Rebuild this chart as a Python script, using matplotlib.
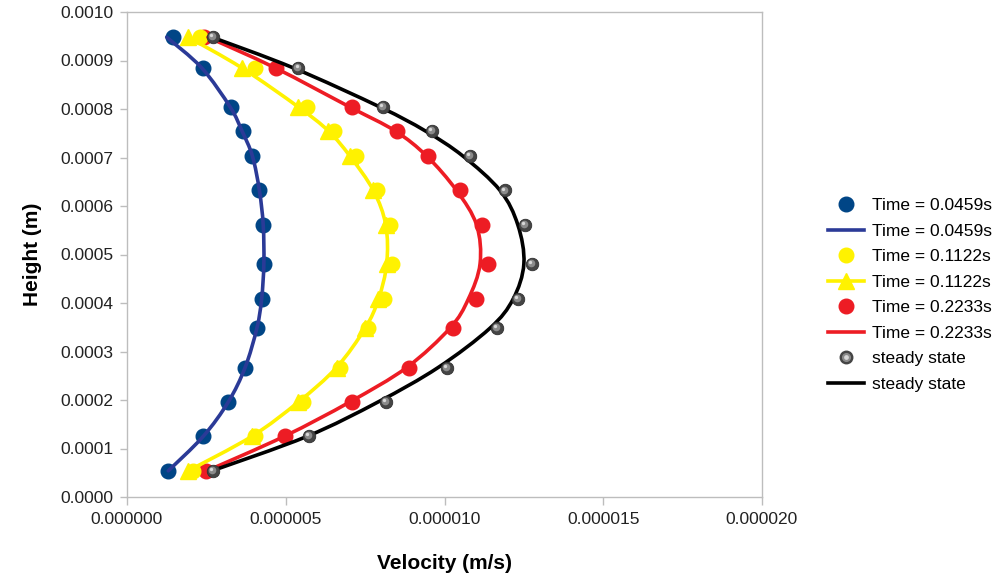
import numpy as np
import matplotlib
matplotlib.use("Agg")
import matplotlib.pyplot as plt
from matplotlib.path import Path
from matplotlib.patches import PathPatch
from matplotlib.lines import Line2D
from matplotlib.legend_handler import HandlerTuple
from matplotlib.transforms import ScaledTranslation
from matplotlib.ticker import FormatStrFormatter, MultipleLocator

plt.rcParams["font.family"] = ["Liberation Sans", "DejaVu Sans"]

# heights of the sampled cells (m)
height = [0.000948, 0.000885, 0.000804, 0.000755, 0.000703, 0.000632, 0.000561,
          0.000481, 0.000408, 0.000348, 0.000267, 0.000196, 0.000125, 0.000054]

# velocities in micro-m/s, converted below
blue_pts = [1.46, 2.40, 3.28, 3.64, 3.95, 4.17, 4.29, 4.31, 4.24, 4.09, 3.72, 3.19, 2.40, 1.30]
blue_line = [1.25, 2.35, 3.25, 3.62, 3.95, 4.17, 4.29, 4.31, 4.24, 4.09, 3.72, 3.19, 2.40, 1.30]
yellow_pts = [2.30, 4.03, 5.66, 6.52, 7.21, 7.86, 8.28, 8.36, 8.10, 7.60, 6.71, 5.53, 4.03, 2.08]
yellow_line = [1.93, 3.61, 5.40, 6.34, 7.02, 7.76, 8.15, 8.18, 7.92, 7.50, 6.60, 5.40, 3.93, 1.93]
red_pts = [2.42, 4.69, 7.08, 8.49, 9.49, 10.49, 11.17, 11.38, 10.99, 10.28, 8.89, 7.08, 4.98, 2.49]
red_line = [2.55, 4.66, 7.02, 8.44, 9.44, 10.38, 11.01, 11.12, 10.75, 10.17, 8.81, 7.02, 4.95, 2.52]
steady_pts = [2.70, 5.40, 8.07, 9.60, 10.80, 11.91, 12.54, 12.76, 12.32, 11.64, 10.07, 8.15, 5.74, 2.72]
steady_line = [2.68, 5.23, 7.97, 9.39, 10.58, 11.75, 12.31, 12.50, 12.16, 11.43, 9.80, 7.91, 5.67, 2.68]

labels = ["Time = 0.0459s", "Time = 0.1122s", "Time = 0.2233s", "steady state"]

BLUE_DOT = "#004586"
BLUE_LINE = "#2b3a97"
YELLOW = "#fff200"
RED = "#ed1c24"


def smooth_path(xs, ys):
    """Bezier path through the points with Catmull-Rom tangents (smoothed line)."""
    pts = np.column_stack([xs, ys])
    n = len(pts)
    verts = [pts[0]]
    codes = [Path.MOVETO]
    for i in range(n - 1):
        p0 = pts[max(i - 1, 0)]
        p1 = pts[i]
        p2 = pts[i + 1]
        p3 = pts[min(i + 2, n - 1)]
        verts += [p1 + (p2 - p0) / 6.0, p2 - (p3 - p1) / 6.0, p2]
        codes += [Path.CURVE4] * 3
    return Path(verts, codes)


def draw_line(ax, xs, ys, color, lw=2.6, z=2):
    patch = PathPatch(smooth_path(xs, ys), facecolor="none", edgecolor=color,
                      lw=lw, capstyle="round", joinstyle="round", zorder=z)
    ax.add_patch(patch)


fig = plt.figure(figsize=(10.02, 5.78), dpi=100)
ax = fig.add_axes([127 / 1002, 81 / 578, 635 / 1002, 485 / 578])

h = np.array(height)
um = 1e-6

# Time = 0.0459s
ax.plot(np.array(blue_pts) * um, h, "o", color=BLUE_DOT, ms=10.5, mec=BLUE_DOT, zorder=3)
draw_line(ax, np.array(blue_line) * um, h, BLUE_LINE, z=3)

# Time = 0.2233s (markers kept under the yellow ones)
ax.plot(np.array(red_pts) * um, h, "o", color=RED, ms=10.5, mec=RED, zorder=3.5)

# Time = 0.1122s
ax.plot(np.array(yellow_pts) * um, h, "o", color=YELLOW, ms=10.5, mec=YELLOW, zorder=3.6)
draw_line(ax, np.array(yellow_line) * um, h, YELLOW, z=3.6)
ax.plot(np.array(yellow_line) * um, h, "^", color=YELLOW, ms=11, mec=YELLOW, zorder=3.7)

draw_line(ax, np.array(red_line) * um, h, RED, z=3.8)

# steady state: shaded sphere markers
draw_line(ax, np.array(steady_line) * um, h, "black", z=3.9)
sx = np.array(steady_pts) * um
ax.plot(sx, h, "o", color="#454545", ms=9, mec="#303030", mew=0.6, zorder=4)
shift1 = ax.transData + ScaledTranslation(-0.7 / 72, 0.7 / 72, fig.dpi_scale_trans)
shift2 = ax.transData + ScaledTranslation(-1.4 / 72, 1.4 / 72, fig.dpi_scale_trans)
ax.plot(sx, h, "o", color="#8a8a8a", ms=5.5, mec="none", transform=shift1, zorder=4.1)
ax.plot(sx, h, "o", color="#d8d8d8", ms=2.4, mec="none", transform=shift2, zorder=4.2)

ax.set_xlim(0, 0.00002)
ax.set_ylim(0, 0.001)
ax.xaxis.set_major_locator(MultipleLocator(0.000005))
ax.yaxis.set_major_locator(MultipleLocator(0.0001))
ax.xaxis.set_major_formatter(FormatStrFormatter("%.6f"))
ax.yaxis.set_major_formatter(FormatStrFormatter("%.4f"))

for s in ax.spines.values():
    s.set_color("#bdbdbd")
    s.set_linewidth(1.0)
ax.tick_params(axis="x", length=6, width=1, color="#bdbdbd", pad=5,
               labelsize=12.5, labelcolor="#222222")
ax.tick_params(axis="y", length=5, width=1, color="#bdbdbd", pad=5,
               labelsize=12.5, labelcolor="#222222")

ax.set_xlabel("Velocity (m/s)", fontsize=15, fontweight="bold", labelpad=19)
ax.set_ylabel("Height (m)", fontsize=15, fontweight="bold", labelpad=13)

sphere = (Line2D([], [], ls="none", marker="o", color="#454545", ms=9),
          Line2D([], [], ls="none", marker="o", color="#8a8a8a", ms=5.5),
          Line2D([], [], ls="none", marker="o", color="#d8d8d8", ms=2.4))
handles = [
    Line2D([], [], ls="none", marker="o", color=BLUE_DOT, ms=10.5),
    Line2D([], [], color=BLUE_LINE, lw=2.6),
    Line2D([], [], ls="none", marker="o", color=YELLOW, ms=10.5),
    Line2D([], [], color=YELLOW, lw=2.6, marker="^", ms=11),
    Line2D([], [], ls="none", marker="o", color=RED, ms=10.5),
    Line2D([], [], color=RED, lw=2.6),
    sphere,
    Line2D([], [], color="black", lw=2.6),
]
names = [labels[0], labels[0], labels[1], labels[1],
         labels[2], labels[2], labels[3], labels[3]]
fig.legend(handles, names, loc="center left", bbox_to_anchor=(812 / 1002, 1 - 295 / 578),
           frameon=False, fontsize=12.5, handlelength=2.1, handletextpad=0.45,
           labelspacing=0.6, handler_map={tuple: HandlerTuple(ndivide=1, pad=0)})

fig.savefig("out.png", dpi=100, facecolor="white")
